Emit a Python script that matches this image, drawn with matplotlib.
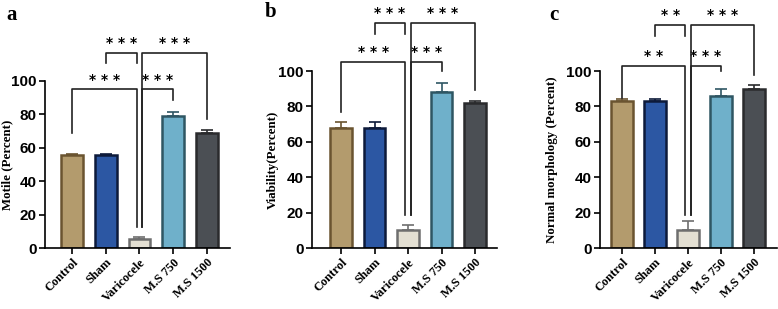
import matplotlib
matplotlib.use("Agg")
import matplotlib.pyplot as plt

groups = ["Control", "Sham", "Varicocele", "M.S 750", "M.S 1500"]

motile = [55.5, 55.5, 5.5, 79, 69]
motile_err = [0.5, 0.5, 0.8, 2.5, 1.5]

viability = [68, 68, 10, 88, 82]
viability_err = [3, 3, 3, 5, 1]

morphology = [83, 83, 10, 86, 90]
morphology_err = [1, 1, 5, 4, 2]

# significance: (from, to, label)
sig_a = [(0, 2, "* * *"), (2, 3, "* * *"), (1, 2, "* * *"), (2, 4, "* * *")]
sig_b = [(0, 2, "* * *"), (2, 3, "* * *"), (1, 2, "* * *"), (2, 4, "* * *")]
sig_c = [(0, 2, "* *"), (2, 3, "* * *"), (1, 2, "* *"), (2, 4, "* * *")]

fills = ["#b39b6d", "#2c57a3", "#e3dfd2", "#6fb0ca", "#4b4f54"]
edges = ["#6a5430", "#0d1a3a", "#6e6e6e", "#2f5663", "#2a2b2d"]

sans = "Liberation Sans"
serif = "Liberation Serif"


def panel(fig, rect, xlim, vals, errs, ylab, labx, sig, heights, letter, letter_pos):
    ax = fig.add_axes(rect)
    x = list(range(len(groups)))
    for i in x:
        ax.bar(i, vals[i], width=0.65, color=fills[i], edgecolor=edges[i],
               linewidth=1.8, zorder=2)
        ax.errorbar(i, vals[i], yerr=[[0], [errs[i]]], fmt="none",
                    ecolor=edges[i], elinewidth=1.2, capsize=4, capthick=1.2,
                    zorder=1)
    ax.set_xlim(*xlim)
    ax.set_ylim(0, 100)
    ax.set_yticks([0, 20, 40, 60, 80, 100])
    ax.spines["top"].set_visible(False)
    ax.spines["right"].set_visible(False)
    ax.spines["left"].set_linewidth(1.2)
    ax.spines["bottom"].set_linewidth(1.2)
    ax.tick_params(axis="both", width=1.2, length=4, pad=2)
    for t in ax.get_yticklabels():
        t.set_fontfamily(sans)
        t.set_fontweight("bold")
        t.set_fontsize(11)
    ax.set_xticks(x)
    ax.set_xticklabels(groups, rotation=45, ha="right", rotation_mode="anchor",
                       fontfamily=serif, fontweight="bold", fontsize=9)
    ax.set_ylabel(ylab, fontfamily=serif, fontweight="bold", fontsize=9.3)
    ax.yaxis.set_label_coords(labx, 0.5)

    for (i, j, lab), (top, lleg, rleg) in zip(sig, heights):
        xi = i + (0.08 if i == 2 else 0)
        xj = j - (0.08 if j == 2 else 0)
        ax.plot([xi, xi, xj, xj], [lleg, top, top, rleg], color="#222222",
                lw=1.2, clip_on=False, zorder=3)
        ax.text((xi + xj) / 2, top + 5.5, lab, ha="center", va="center",
                fontfamily="DejaVu Sans", fontweight="bold", fontsize=10,
                clip_on=False)
    fig.text(letter_pos[0], letter_pos[1], letter, fontfamily=serif,
             fontweight="bold", fontsize=15, ha="left", va="top")
    return ax


fig = plt.figure(figsize=(7.78, 3.09), dpi=100)

panel(fig, [0.0578, 0.1974, 0.2378, 0.5405], (-0.81, 4.69), motile, motile_err,
      "Motile (Percent)", -0.17, sig_a,
      [(95, 69, 12.6), (95, 12.6, 88.6), (117, 111, 111), (117, 12.6, 77)],
      "a", (0.008, 0.985))

panel(fig, [0.401, 0.1974, 0.238, 0.5728], (-0.87, 4.66), viability,
      viability_err, "Viability(Percent)", -0.18, sig_b,
      [(105, 77, 18.6), (105, 18.6, 100), (127, 121, 121), (127, 18.6, 89)],
      "b", (0.340, 0.995))

panel(fig, [0.771, 0.1974, 0.2277, 0.5728], (-0.67, 4.7), morphology,
      morphology_err, "Normal morphology (Percent)", -0.235, sig_c,
      [(103, 85, 18.6), (103, 18.6, 100), (126, 120, 120), (126, 18.6, 98)],
      "c", (0.706, 0.985))

fig.savefig("out.png", dpi=100)
